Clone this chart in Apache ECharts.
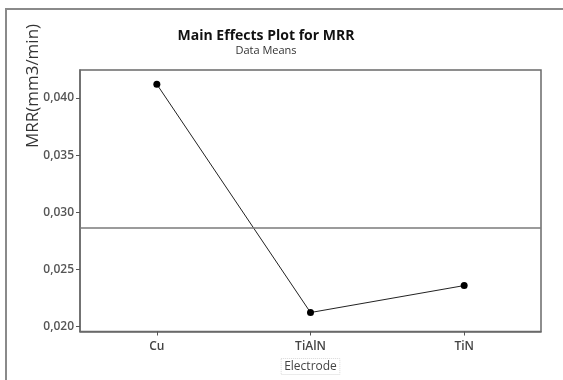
<!DOCTYPE html>
<html><head><meta charset="utf-8">
<script src="https://cdn.jsdelivr.net/npm/echarts@6/dist/echarts.min.js"></script>
<style>html,body{margin:0;padding:0;background:#fff}#c{width:563px;height:380px}</style>
</head><body><div id="c"></div>
<script>
var categories = ['Cu', 'TiAlN', 'TiN'];
var mrrMeans = [0.0412, 0.02122, 0.02358];
var grandMean = 0.02866;
var yTicks = [0.020, 0.025, 0.030, 0.035, 0.040];

var chart = echarts.init(document.getElementById('c'));
var F = '"Open Sans", "DejaVu Sans", sans-serif';
chart.setOption({
  animation: false,
  backgroundColor: '#fff',
  grid: { left: 80, right: 22, top: 70, bottom: 42, show: true, borderColor: '#6a6a6a', borderWidth: 1.5, containLabel: false },
  graphic: [
    { type: 'polyline', shape: { points: [[6, 380], [6, 9], [563, 9]] }, style: { stroke: '#8a8a8a', lineWidth: 2, fill: null } },
    { type: 'text', x: 266, y: 36, style: { text: 'Main Effects Plot for MRR', font: 'bold 14px ' + F, fill: '#111', align: 'center', verticalAlign: 'middle' } },
    { type: 'text', x: 266, y: 51, style: { text: 'Data Means', font: '11px ' + F, fill: '#333', align: 'center', verticalAlign: 'middle' } },
    { type: 'text', x: 33, y: 86, rotation: Math.PI / 2, style: { text: 'MRR(mm3/min)', font: '17px ' + F, fill: '#333', align: 'center', verticalAlign: 'middle' } }
  ],
  xAxis: {
    type: 'category', data: categories, boundaryGap: true,
    name: 'Electrode', nameLocation: 'middle', nameGap: 27,
    nameTextStyle: { fontFamily: F, fontSize: 12, color: '#444', borderColor: '#d8d8d8', borderWidth: 1, borderType: 'dotted', padding: [2, 3, 2, 3] },
    axisLine: { show: true, lineStyle: { color: '#6a6a6a', width: 1.5 } },
    axisTick: { show: true, alignWithLabel: true, length: 4, lineStyle: { color: '#555' } },
    axisLabel: { fontFamily: F, fontSize: 12, color: '#444', fontWeight: 600, margin: 9 },
    splitLine: { show: false }
  },
  yAxis: {
    type: 'value', min: 0.01956, max: 0.04245,
    axisLine: { show: true, lineStyle: { color: '#6a6a6a', width: 1.5 } },
    axisTick: { show: true, length: 4, customValues: yTicks, lineStyle: { color: '#555' } },
    axisLabel: { customValues: yTicks, fontFamily: F, fontSize: 12, color: '#555', fontWeight: 600, margin: 6,
      formatter: function (v) { return v.toFixed(3).replace('.', ','); } },
    splitLine: { show: false }
  },
  series: [{
    type: 'line', data: mrrMeans, symbol: 'circle', symbolSize: 7,
    itemStyle: { color: '#000' }, lineStyle: { color: '#222', width: 1 },
    markLine: { silent: true, symbol: 'none', label: { show: false }, precision: 5,
      lineStyle: { color: '#7a7a7a', type: 'solid', width: 1.5 },
      data: [{ yAxis: grandMean }] }
  }]
});
</script></body></html>
